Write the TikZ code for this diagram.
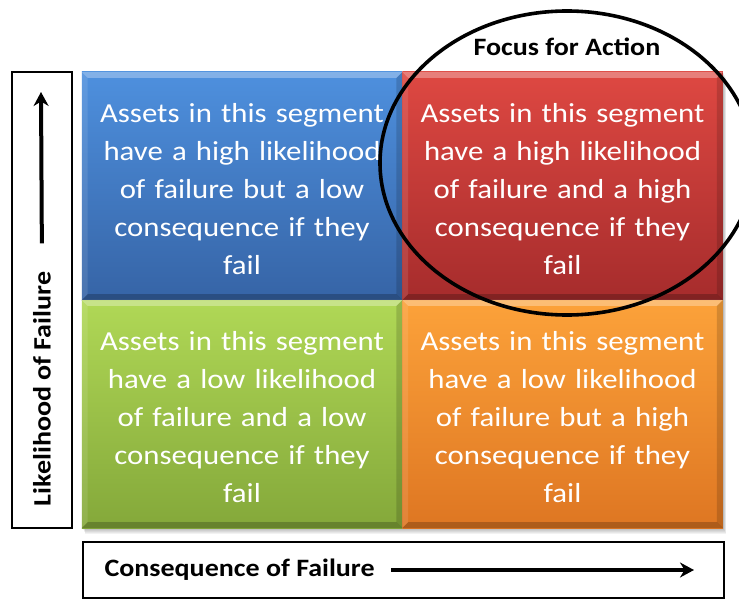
\documentclass[tikz,border=0pt]{standalone}
\usepackage{fontspec}
\setmainfont{Carlito}[FakeStretch=1.12]
\usetikzlibrary{arrows.meta}

\definecolor{hiLoTop}{RGB}{78,144,222}
\definecolor{hiLoBot}{RGB}{54,100,166}
\definecolor{hiHiTop}{RGB}{222,72,66}
\definecolor{hiHiBot}{RGB}{166,44,44}
\definecolor{loLoTop}{RGB}{176,216,86}
\definecolor{loLoBot}{RGB}{132,168,58}
\definecolor{loHiTop}{RGB}{252,162,58}
\definecolor{loHiBot}{RGB}{222,118,34}

\tikzset{
  segment/.style={rectangle, inner sep=0pt, minimum width=320.5pt,
    minimum height=228pt, text width=310pt, align=center, text=white,
    font=\fontsize{27.5}{38}\selectfont},
  axisbox/.style={draw, line width=1.6pt, inner sep=0pt},
  axislabel/.style={font=\fontsize{25}{30}\selectfont\bfseries},
  axisarrow/.style={->, line width=4pt},
}

% light top and left edge, dark bottom and right edge
\newcommand\bevel[1]{%
  \fill[white,opacity=.3] (#1.north west) -- (#1.north east)
    -- ([shift={(-6pt,-6pt)}]#1.north east) -- ([shift={(6pt,-6pt)}]#1.north west) -- cycle;
  \fill[white,opacity=.1] (#1.north west) -- (#1.south west)
    -- ([shift={(6pt,6pt)}]#1.south west) -- ([shift={(6pt,-6pt)}]#1.north west) -- cycle;
  \fill[black,opacity=.22] (#1.south west) -- (#1.south east)
    -- ([shift={(-6pt,6pt)}]#1.south east) -- ([shift={(6pt,6pt)}]#1.south west) -- cycle;
  \fill[black,opacity=.15] (#1.north east) -- (#1.south east)
    -- ([shift={(-6pt,6pt)}]#1.south east) -- ([shift={(-6pt,-6pt)}]#1.north east) -- cycle;
}

\begin{document}
\begin{tikzpicture}[x=1pt,y=-1pt,>={Stealth[length=14pt,width=15pt]}]
\path[use as bounding box] (0,0) rectangle (739,599);
\clip (0,0) rectangle (739,599);

% Soft shadow under the grid
\foreach \s in {1,...,6}
  \fill[black,opacity=.05] (82+\s/2,72+\s) rectangle (723+\s/2,528+\s);

% The four segments
\node[segment, top color=hiLoTop, bottom color=hiLoBot] (hiLo) at (242,186) {};
\node[segment, top color=hiHiTop, bottom color=hiHiBot] (hiHi) at (562.5,186) {};
\node[segment, top color=loLoTop, bottom color=loLoBot] (loLo) at (242,414) {};
\node[segment, top color=loHiTop, bottom color=loHiBot] (loHi) at (562.5,414) {};
\foreach \q in {hiLo,hiHi,loLo,loHi}
  \bevel{\q};

% Segment texts
\node[segment] (hiLoTxt) at (242,189)
  {Assets in this segment\\have a high likelihood\\of failure but a low\\consequence if they\\fail};
\node[segment] (hiHiTxt) at (562.5,189)
  {Assets in this segment\\have a high likelihood\\of failure and a high\\consequence if they\\fail};
\node[segment] (loLoTxt) at (242,417)
  {Assets in this segment\\have a low likelihood\\of failure and a low\\consequence if they\\fail};
\node[segment] (loHiTxt) at (562.5,417)
  {Assets in this segment\\have a low likelihood\\of failure but a high\\consequence if they\\fail};

% The focus ring
\draw[line width=3.6pt] (567,163) ellipse [x radius=187, y radius=152];
\node[axislabel] (focus) at (567,47) {Focus for Action};

% The vertical axis
\node[axisbox, minimum width=60pt, minimum height=456pt] (likeBox) at (42,300) {};
\node[axislabel, rotate=90] (likeLbl) at (42,389) {Likelihood of Failure};
\coordinate (likeTip) at (41,92);
\draw[axisarrow, shorten <=25pt] (likeLbl.east) -- (likeTip);

% The horizontal axis
\node[axisbox, minimum width=641pt, minimum height=56pt] (consBox) at (403.5,570) {};
\node[axislabel, anchor=west] (consLbl) at (101,570) {Consequence of Failure};
\coordinate (consTip) at (694,570);
\draw[axisarrow, shorten <=13pt] (consLbl.east) -- (consTip);
\end{tikzpicture}
\end{document}
